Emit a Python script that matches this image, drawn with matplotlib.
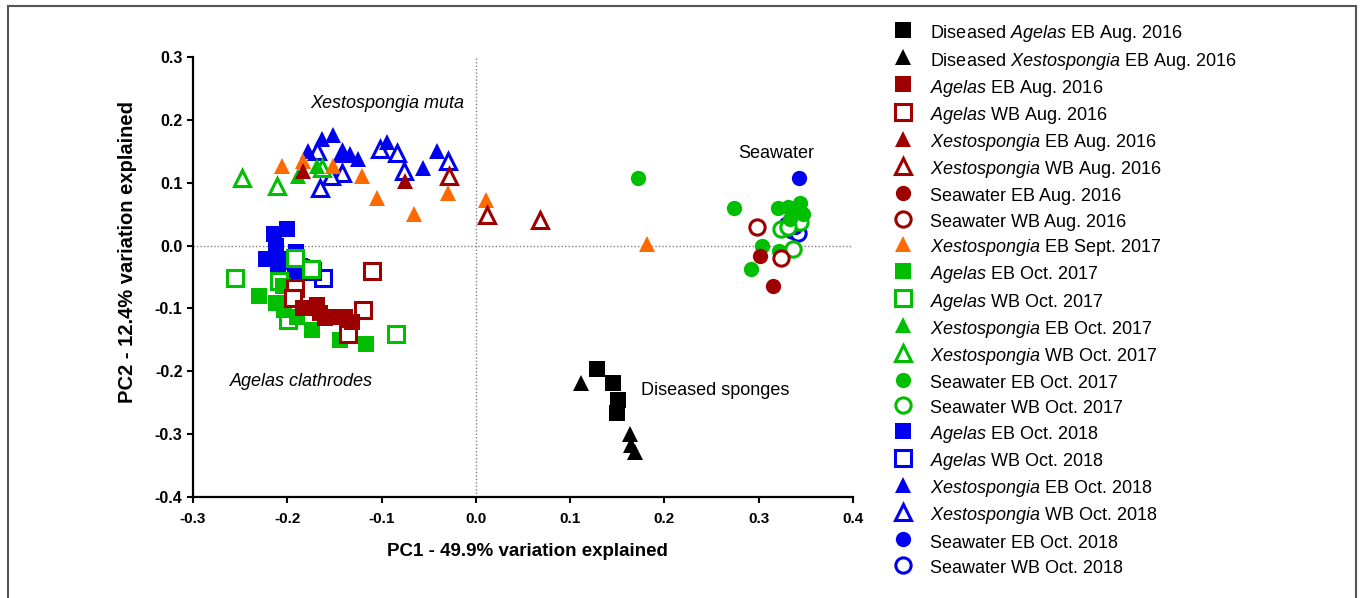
import matplotlib
matplotlib.use("Agg")
import matplotlib.pyplot as plt
from matplotlib.patches import Rectangle

plt.rcParams['font.family'] = ['Liberation Sans', 'DejaVu Sans']
plt.rcParams['mathtext.fontset'] = 'custom'
plt.rcParams['mathtext.rm'] = 'Liberation Sans'
plt.rcParams['mathtext.it'] = 'Liberation Sans:italic'

# PC1 / PC2 scores, one pair of lists per sample group
dis_ag_aug16_pc1 = [0.129, 0.145, 0.151, 0.150]
dis_ag_aug16_pc2 = [-0.197, -0.219, -0.246, -0.267]
dis_xe_aug16_pc1 = [0.111, 0.163, 0.165, 0.169]
dis_xe_aug16_pc2 = [-0.219, -0.299, -0.318, -0.329]

ag_eb_aug16_pc1 = [-0.183, -0.173, -0.168, -0.165, -0.160, -0.155, -0.139, -0.131]
ag_eb_aug16_pc2 = [-0.099, -0.100, -0.095, -0.107, -0.116, -0.113, -0.114, -0.121]
ag_wb_aug16_pc1 = [-0.110, -0.192, -0.194, -0.120, -0.136]
ag_wb_aug16_pc2 = [-0.040, -0.067, -0.083, -0.102, -0.140]
xe_eb_aug16_pc1 = [-0.183, -0.075]
xe_eb_aug16_pc2 = [0.119, 0.102]
xe_wb_aug16_pc1 = [-0.029, 0.012, 0.068]
xe_wb_aug16_pc2 = [0.110, 0.048, 0.040]
sw_eb_aug16_pc1 = [0.301, 0.315]
sw_eb_aug16_pc2 = [-0.016, -0.064]
sw_wb_aug16_pc1 = [0.298, 0.324]
sw_wb_aug16_pc2 = [0.029, -0.019]

xe_eb_sep17_pc1 = [-0.206, -0.183, -0.152, -0.121, -0.105, -0.066, -0.030, 0.011, 0.181]
xe_eb_sep17_pc2 = [0.127, 0.135, 0.127, 0.111, 0.075, 0.051, 0.084, 0.073, 0.003]

ag_eb_oct17_pc1 = [-0.230, -0.212, -0.203, -0.190, -0.174, -0.144, -0.117, -0.205]
ag_eb_oct17_pc2 = [-0.081, -0.092, -0.103, -0.114, -0.135, -0.151, -0.157, -0.064]
ag_wb_oct17_pc1 = [-0.255, -0.192, -0.175, -0.209, -0.199, -0.085]
ag_wb_oct17_pc2 = [-0.052, -0.019, -0.037, -0.057, -0.119, -0.140]
xe_eb_oct17_pc1 = [-0.189, -0.168]
xe_eb_oct17_pc2 = [0.111, 0.126]
xe_wb_oct17_pc1 = [-0.248, -0.211, -0.163]
xe_wb_oct17_pc2 = [0.108, 0.095, 0.124]
sw_eb_oct17_pc1 = [0.172, 0.274, 0.303, 0.292, 0.322, 0.320, 0.331, 0.344, 0.347, 0.333, 0.338]
sw_eb_oct17_pc2 = [0.108, 0.059, 0.000, -0.037, -0.008, 0.059, 0.062, 0.068, 0.051, 0.043, 0.055]
sw_wb_oct17_pc1 = [0.324, 0.336, 0.344, 0.331]
sw_wb_oct17_pc2 = [0.027, -0.006, 0.037, 0.029]

ag_eb_oct18_pc1 = [-0.200, -0.214, -0.223, -0.207, -0.191, -0.192, -0.210, -0.187, -0.212]
ag_eb_oct18_pc2 = [0.027, 0.019, -0.021, -0.021, -0.011, -0.043, -0.032, -0.032, 0.000]
ag_wb_oct18_pc1 = [-0.162, -0.174, -0.205, -0.187]
ag_wb_oct18_pc2 = [-0.051, -0.040, -0.049, -0.035]
xe_eb_oct18_pc1 = [-0.178, -0.163, -0.151, -0.141, -0.133, -0.125, -0.094, -0.056, -0.041]
xe_eb_oct18_pc2 = [0.151, 0.169, 0.176, 0.148, 0.146, 0.138, 0.164, 0.124, 0.151]
xe_wb_oct18_pc1 = [-0.169, -0.142, -0.142, -0.102, -0.084, -0.076, -0.030, -0.165, -0.154]
xe_wb_oct18_pc2 = [0.151, 0.148, 0.116, 0.154, 0.148, 0.118, 0.135, 0.091, 0.111]
sw_eb_oct18_pc1 = [0.343, 0.338]
sw_eb_oct18_pc2 = [0.107, 0.030]
sw_wb_oct18_pc1 = [0.335, 0.342, 0.330]
sw_wb_oct18_pc2 = [0.025, 0.020, 0.032]

AG = r'$\mathit{Agelas}$'
XE = r'$\mathit{Xestospongia}$'
labels = [
    'Diseased ' + AG + ' EB Aug. 2016',
    'Diseased ' + XE + ' EB Aug. 2016',
    AG + ' EB Aug. 2016',
    AG + ' WB Aug. 2016',
    XE + ' EB Aug. 2016',
    XE + ' WB Aug. 2016',
    'Seawater EB Aug. 2016',
    'Seawater WB Aug. 2016',
    XE + ' EB Sept. 2017',
    AG + ' EB Oct. 2017',
    AG + ' WB Oct. 2017',
    XE + ' EB Oct. 2017',
    XE + ' WB Oct. 2017',
    'Seawater EB Oct. 2017',
    'Seawater WB Oct. 2017',
    AG + ' EB Oct. 2018',
    AG + ' WB Oct. 2018',
    XE + ' EB Oct. 2018',
    XE + ' WB Oct. 2018',
    'Seawater EB Oct. 2018',
    'Seawater WB Oct. 2018',
]
pc1 = [dis_ag_aug16_pc1, dis_xe_aug16_pc1, ag_eb_aug16_pc1, ag_wb_aug16_pc1,
       xe_eb_aug16_pc1, xe_wb_aug16_pc1, sw_eb_aug16_pc1, sw_wb_aug16_pc1,
       xe_eb_sep17_pc1, ag_eb_oct17_pc1, ag_wb_oct17_pc1, xe_eb_oct17_pc1,
       xe_wb_oct17_pc1, sw_eb_oct17_pc1, sw_wb_oct17_pc1, ag_eb_oct18_pc1,
       ag_wb_oct18_pc1, xe_eb_oct18_pc1, xe_wb_oct18_pc1, sw_eb_oct18_pc1,
       sw_wb_oct18_pc1]
pc2 = [dis_ag_aug16_pc2, dis_xe_aug16_pc2, ag_eb_aug16_pc2, ag_wb_aug16_pc2,
       xe_eb_aug16_pc2, xe_wb_aug16_pc2, sw_eb_aug16_pc2, sw_wb_aug16_pc2,
       xe_eb_sep17_pc2, ag_eb_oct17_pc2, ag_wb_oct17_pc2, xe_eb_oct17_pc2,
       xe_wb_oct17_pc2, sw_eb_oct17_pc2, sw_wb_oct17_pc2, ag_eb_oct18_pc2,
       ag_wb_oct18_pc2, xe_eb_oct18_pc2, xe_wb_oct18_pc2, sw_eb_oct18_pc2,
       sw_wb_oct18_pc2]

# styles
BLACK, RED, ORANGE, GREEN, BLUE = '#000000', '#9e0000', '#ff6a00', '#00bf00', '#0000f0'
colors = [BLACK, BLACK] + [RED] * 6 + [ORANGE] + [GREEN] * 6 + [BLUE] * 6
markers = ['s', '^', 's', 's', '^', '^', 'o', 'o', '^',
           's', 's', '^', '^', 'o', 'o', 's', 's', '^', '^', 'o', 'o']
filled = [True, True, True, False, True, False, True, False, True,
          True, False, True, False, True, False, True, False, True, False, True, False]
msize = {'s': 11, '^': 11.5, 'o': 11}

fig = plt.figure(figsize=(13.6, 5.98), dpi=100)
ax = fig.add_axes([193 / 1360, 1 - 497 / 598, 660 / 1360, 440 / 598])

handles = []
n = len(labels)
for i in range(n):
    m = markers[i]
    h, = ax.plot(pc1[i], pc2[i], ls='none', marker=m, ms=msize[m],
                 mfc=colors[i] if filled[i] else 'white', mec=colors[i],
                 mew=0 if filled[i] else 2.2, zorder=3 + (n - i) * 0.01)
    handles.append(h)

ax.axhline(0, color='#808080', ls=(0, (1, 1.5)), lw=1, zorder=1)
ax.axvline(0, color='#808080', ls=(0, (1, 1.5)), lw=1, zorder=1)

ax.set_xlim(-0.3, 0.4)
ax.set_ylim(-0.4, 0.3)
ax.set_xticks([-0.3, -0.2, -0.1, 0.0, 0.1, 0.2, 0.3, 0.4])
ax.set_yticks([-0.4, -0.3, -0.2, -0.1, 0.0, 0.1, 0.2, 0.3])
ax.set_xticklabels(['%.1f' % v for v in ax.get_xticks()], fontweight='bold', fontsize=11)
ax.set_yticklabels(['%.1f' % v for v in ax.get_yticks()], fontweight='bold', fontsize=11.5)
for s in ['top', 'right']:
    ax.spines[s].set_visible(False)
for s in ['left', 'bottom']:
    ax.spines[s].set_linewidth(1.6)
ax.tick_params(direction='out', length=4.5, width=1.5)
ax.tick_params(axis='x', pad=6)
ax.tick_params(axis='y', pad=3)

ax.set_xlabel('PC1 - 49.9% variation explained', fontweight='bold', fontsize=13.5)
ax.set_ylabel('PC2 - 12.4% variation explained', fontweight='bold', fontsize=14.5)
ax.xaxis.set_label_coords(0.506, -0.105)
ax.yaxis.set_label_coords(-0.085, 0.557)

ax.text(-0.094, 0.226, 'Xestospongia muta', fontstyle='italic', fontsize=13, ha='center', va='center')
ax.text(0.319, 0.146, 'Seawater', fontsize=13, ha='center', va='center')
ax.text(-0.185, -0.216, 'Agelas clathrodes', fontstyle='italic', fontsize=13, ha='center', va='center')
ax.text(0.175, -0.231, 'Diseased sponges', fontsize=13, ha='left', va='center')

fig.legend(handles, labels, loc='upper left', bbox_to_anchor=(894 / 1360, 1 - 22 / 598),
           frameon=False, fontsize=13, handlelength=1.0, handletextpad=1.0,
           handleheight=1.4, labelspacing=0.26, borderpad=0, borderaxespad=0,
           numpoints=1)

fig.patches.append(Rectangle((8 / 1360, -0.02), 1348 / 1360, 1.02 - 6 / 598,
                             transform=fig.transFigure, fill=False,
                             edgecolor='#555555', lw=1.5))

fig.savefig('out.png', dpi=100)
